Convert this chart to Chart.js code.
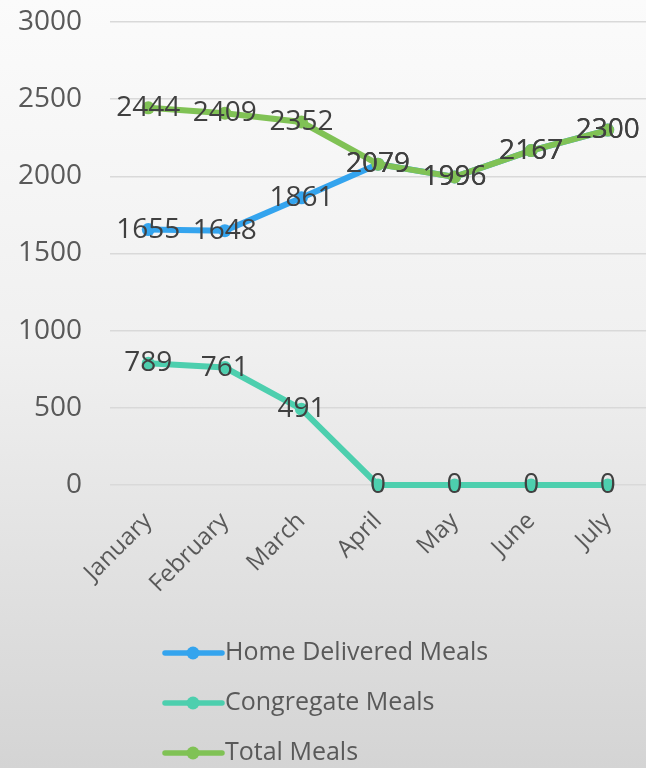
<!DOCTYPE html>
<html><head><meta charset="utf-8">
<script src="https://cdn.jsdelivr.net/npm/chart.js@4/dist/chart.umd.min.js"></script>
<style>
html,body{margin:0;padding:0;width:646px;height:768px;overflow:hidden;
background:linear-gradient(180deg,#fbfbfb 0%,#f0f0f0 45%,#d4d4d4 100%);}
#c{position:absolute;left:0;top:0;}
</style></head><body>
<canvas id="c" width="646" height="768"></canvas>
<script>
const months = ["January","February","March","April","May","June","July"];
const homeDelivered = [1655,1648,1861,2079,1996,2167,2300];
const congregate = [789,761,491,0,0,0,0];
const totalMeals = [2444,2409,2352,2079,1996,2167,2300];
const seriesNames = ["Home Delivered Meals","Congregate Meals","Total Meals"];
const seriesColors = ["#34a4ee","#4dcfae","#80c255"];
const yMin = 0, yMax = 3000, yStep = 500;

const FONT = "'Open Sans', sans-serif";
const TXT = "#595959";

const labelPlugin = {
  id: 'valueLabels',
  afterDatasetsDraw(chart) {
    const ctx = chart.ctx;
    ctx.save();
    ctx.font = "28px " + FONT;
    ctx.fillStyle = "#404040";
    ctx.textAlign = "center";
    ctx.textBaseline = "middle";
    chart.data.datasets.forEach((ds, i) => {
      const meta = chart.getDatasetMeta(i);
      meta.data.forEach((pt, j) => {
        ctx.fillText(String(ds.data[j]), pt.x, pt.y);
      });
    });
    ctx.restore();
  }
};

const legendPlugin = {
  id: 'vLegend',
  afterDraw(chart) {
    const ctx = chart.ctx;
    const a = chart.chartArea;
    ctx.save();
    chart.data.datasets.forEach((ds, i) => {
      const y = a.bottom + 168 + i * 50;
      const x0 = a.left + 55;
      ctx.strokeStyle = ds.borderColor;
      ctx.lineWidth = 5.5;
      ctx.lineCap = "round";
      ctx.beginPath(); ctx.moveTo(x0, y); ctx.lineTo(x0 + 57, y); ctx.stroke();
      ctx.fillStyle = ds.borderColor;
      ctx.beginPath(); ctx.arc(x0 + 28, y, 6.5, 0, Math.PI * 2); ctx.fill();
      ctx.fillStyle = TXT;
      ctx.font = "25px " + FONT;
      ctx.textAlign = "left";
      ctx.textBaseline = "middle";
      ctx.fillText(ds.label, x0 + 60, y);
    });
    ctx.restore();
  }
};

const series = [homeDelivered, congregate, totalMeals];
new Chart(document.getElementById('c'), {
  type: 'line',
  data: {
    labels: months,
    datasets: series.map((d, i) => ({
      label: seriesNames[i],
      data: d,
      borderColor: seriesColors[i],
      backgroundColor: seriesColors[i],
      borderWidth: 6,
      pointRadius: 6.5,
      pointBorderWidth: 0,
      pointHoverRadius: 6.5,
      tension: 0,
      clip: false,
      order: 3 - i
    }))
  },
  options: {
    responsive: false,
    animation: false,
    layout: { autoPadding: false, padding: { top: 22, right: 0, left: 0, bottom: 143 } },
    plugins: { legend: { display: false }, tooltip: { enabled: false } },
    scales: {
      x: {
        offset: true,
        grid: { display: false, drawTicks: false },
        border: { display: false },
        ticks: { color: TXT, font: { family: FONT, size: 24 }, minRotation: 45, maxRotation: 45, padding: 22 },
        afterFit(s) { s.height = 140; s.paddingLeft = 0; s.paddingRight = 0; }
      },
      y: {
        min: yMin, max: yMax,
        grid: { color: "#d9d9d9", lineWidth: 1.5, drawTicks: false },
        border: { display: false },
        ticks: { stepSize: yStep, color: TXT, font: { family: FONT, size: 28 }, padding: 28,
                 callback: (v) => String(v) },
        afterFit(s) { s.width = 110; s.paddingTop = 0; s.paddingBottom = 0; }
      }
    }
  },
  plugins: [labelPlugin, legendPlugin]
});
</script>
</body></html>
